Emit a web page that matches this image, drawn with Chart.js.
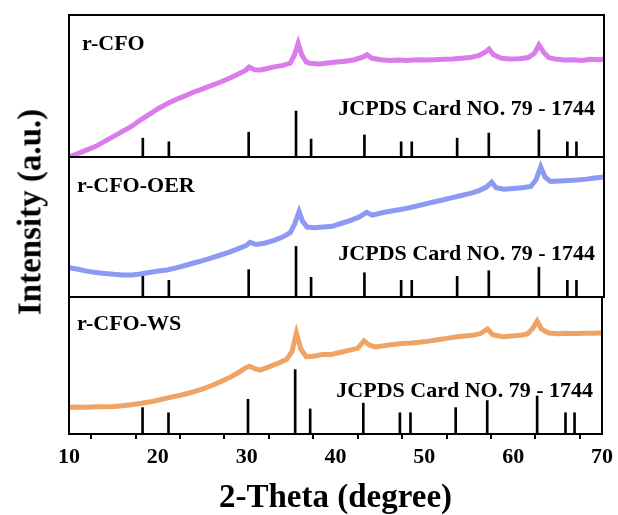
<!DOCTYPE html>
<html>
<head>
<meta charset="utf-8">
<script src="https://cdn.jsdelivr.net/npm/chart.js@4.4.1/dist/chart.umd.min.js"></script>
<style>
  html, body { margin: 0; padding: 0; background: #fff; overflow: hidden; }
  #wrap { position: relative; width: 618px; height: 515px; }
  #wrap canvas { position: absolute; left: 0; top: 0; }
  #ytitle {
    position: absolute; left: 30px; top: 212px;
    transform: translate(-50%, -50%) rotate(-90deg);
    font: bold 33px 'Liberation Serif', serif; white-space: nowrap; color: #000;
  }
</style>
</head>
<body>
<div id="wrap">
  <canvas id="cfo" width="618" height="515"></canvas>
  <canvas id="oer" width="618" height="515"></canvas>
  <canvas id="ws" width="618" height="515"></canvas>
  <div id="ytitle">Intensity (a.u.)</div>
</div>
<script>
// r-CFO pattern (2-Theta, intensity in % of panel height)
const thetaCFO = [10,11,12,13,14,15,16,17,18,19,20,21,22,23,24,25,26,27,28,29,29.8,30.2,30.8,31.5,32,33,34,34.8,35.3,35.7,36.1,36.6,37,38,39,40,41,42,43,43.4,44,45,46,47,48,49,50,51,52,53,54,55,56,56.7,57.1,57.6,58.5,59.5,60.5,61.5,62.2,62.7,63.2,63.8,64.5,65.5,66.5,67.5,68.5,69.5,70];
const countsCFO = [0,2.5,5,7.5,11,14.5,18,21.5,26,30,34,37.5,40.5,43,45.8,48,50.5,52.8,55.5,58.5,61,63.4,61.5,61.3,62,63.5,64.5,66,72,80,72,67,66,65.5,66.2,66.9,67.5,68.5,70.5,72,69.5,68.5,68,68.3,68,68.5,68.3,68.5,68.8,69,69.5,70,71.5,74,76,72,69.5,69,69.2,70,73,78.9,74,70,69,68.3,68.5,68,68.8,68.5,69];

// r-CFO-OER pattern
const thetaOER = [10,11,12,13,14,15,16,17,18,19,20,21,22,23,24,25,26,27,28,29,29.8,30.3,31,32,33,34,34.8,35.3,35.8,36.2,36.7,37.5,38.5,39.5,40.5,41.5,42.5,43.4,44,45,46,47,48,49,50,51,52,53,54,55,56,56.8,57.4,57.9,58.8,59.8,60.8,61.8,62.4,62.9,63.4,64,65,66,67,68,69,70];
const countsOER = [21,19.8,18.5,17.5,16.8,16.2,15.8,15.8,16.5,17.5,18.5,19.3,20.8,22.5,24.3,26,28,30,32,34.5,36.5,39,37.5,38.6,40.5,43,46,52,61,54,50,49.5,50,50.5,52.5,54.5,57,60.5,58.5,60,61.3,62.3,63.5,65,66.5,68,69.5,71,72.5,74,76,78.5,82,78,77,77.5,78,79,84,93,85.5,82.5,82.8,83.2,83.6,84.2,85,85.7];

// r-CFO-WS pattern
const thetaWS = [10,11,12,13,14,15,16,17,18,19,20,21,22,23,24,25,26,27,28,29,29.8,30.3,31,31.5,32.5,33.5,34.5,35.1,35.6,36.1,36.7,37.5,38.5,39.5,40.5,41.5,42.5,43.2,43.8,44.5,45.5,46.5,47.5,48.5,49.5,50.5,51.5,52.5,53.5,54.5,55.5,56.4,57.1,57.7,58.8,59.8,60.8,61.6,62.2,62.7,63.2,64,65,66,67,68,69,70];
const countsWS = [19.5,19.7,19.6,19.8,19.8,20,20.6,21.3,22.2,23.3,24.6,26.2,27.5,29,30.7,32.8,35.2,38,41,44.5,48,49.5,47.5,46.7,49,51.5,54.5,60,73.7,62,56.5,56.8,58,58,59.5,61,62.5,68,65,63.5,64.5,65.3,66,66.4,67,67.8,68.8,69.8,70.8,71.5,72,73.5,76.6,72.5,71,71.5,72,73,77,82.5,76.5,73.7,73.2,73.5,73.3,73.6,73.5,73.8];

// JCPDS card 79-1744 reference lines
const cardTheta = [18.28,21.2,30.15,35.46,37.15,43.13,47.25,48.44,53.53,57.08,62.7,65.89,66.91];
const cardIntensity = [41,33,54,100,39,48,33,33,41,52,59,33,33];

const cardText = 'JCPDS Card NO. 79 - 1744';

function toPoints(xs, ys) {
  return xs.map((x, i) => ({ x: x, y: ys[i] }));
}

// frame around each panel plus the sample name and card caption
const panelText = {
  id: 'panelText',
  afterDatasetsDraw(chart, args, opts) {
    const { ctx, chartArea: a } = chart;
    ctx.save();
    ctx.strokeStyle = '#000';
    ctx.lineWidth = 2;
    ctx.strokeRect(a.left, a.top, a.right - a.left, a.bottom - a.top);
    ctx.fillStyle = '#000';
    ctx.font = 'bold 22px "Liberation Serif", serif';
    ctx.textBaseline = 'alphabetic';
    ctx.textAlign = 'left';
    ctx.fillText(opts.label, a.left + opts.labelDx, a.top + opts.labelDy);
    ctx.textAlign = 'right';
    ctx.fillText(cardText, a.right - 9, a.top + opts.cardDy);
    ctx.restore();
  }
};

function makePanel(id, theta, counts, color, label, cardMax, pad, text, bottomAxis) {
  const ctx = document.getElementById(id).getContext('2d');
  return new Chart(ctx, {
    type: 'line',
    data: {
      datasets: [
        {
          type: 'line',
          label: label,
          data: toPoints(theta, counts),
          borderColor: color,
          borderWidth: 5,
          pointRadius: 0,
          tension: 0,
          yAxisID: 'y'
        },
        {
          type: 'bar',
          label: cardText,
          data: toPoints(cardTheta, cardIntensity),
          backgroundColor: '#000',
          barThickness: 2,
          yAxisID: 'yc'
        }
      ]
    },
    options: {
      responsive: false,
      animation: false,
      layout: { padding: pad },
      plugins: {
        legend: { display: false },
        tooltip: { enabled: false },
        panelText: text
      },
      scales: {
        x: {
          type: 'linear',
          min: 10,
          max: 70,
          offset: false,
          display: bottomAxis,
          afterFit: bottomAxis ? function (s) { s.height = 81; } : undefined,
          grid: { drawOnChartArea: false, drawTicks: true, tickLength: 5, color: '#000', lineWidth: 2 },
          border: { display: true, color: '#000', width: 2 },
          ticks: {
            stepSize: 5,
            padding: 5,
            maxRotation: 0,
            autoSkip: false,
            color: '#000',
            font: { family: 'Liberation Serif', size: 22, weight: 'bold' },
            callback: v => (v % 10 === 0 ? v : '')
          },
          title: {
            display: true,
            text: '2-Theta (degree)',
            color: '#000',
            padding: { top: 0, bottom: 0 },
            font: { family: 'Liberation Serif', size: 33, weight: 'bold', lineHeight: 1 }
          }
        },
        y: { display: false, min: 0, max: 100 },
        yc: { display: false, min: 0, max: cardMax }
      }
    },
    plugins: [panelText]
  });
}

makePanel('cfo', thetaCFO, countsCFO, '#DA7CEA', 'r-CFO', 309,
  { left: 69, right: 14, top: 15, bottom: 358 },
  { label: 'r-CFO', labelDx: 13, labelDy: 35, cardDy: 100 }, false);

makePanel('oer', thetaOER, countsOER, '#8D99F3', 'r-CFO-OER', 277,
  { left: 69, right: 14, top: 157, bottom: 218 },
  { label: 'r-CFO-OER', labelDx: 8, labelDy: 35, cardDy: 103 }, false);

makePanel('ws', thetaWS, countsWS, '#EFA466', 'r-CFO-WS', 213,
  { left: 69, right: 14, top: 297, bottom: 0 },
  { label: 'r-CFO-WS', labelDx: 8, labelDy: 33, cardDy: 100 }, true);
</script>
</body>
</html>
